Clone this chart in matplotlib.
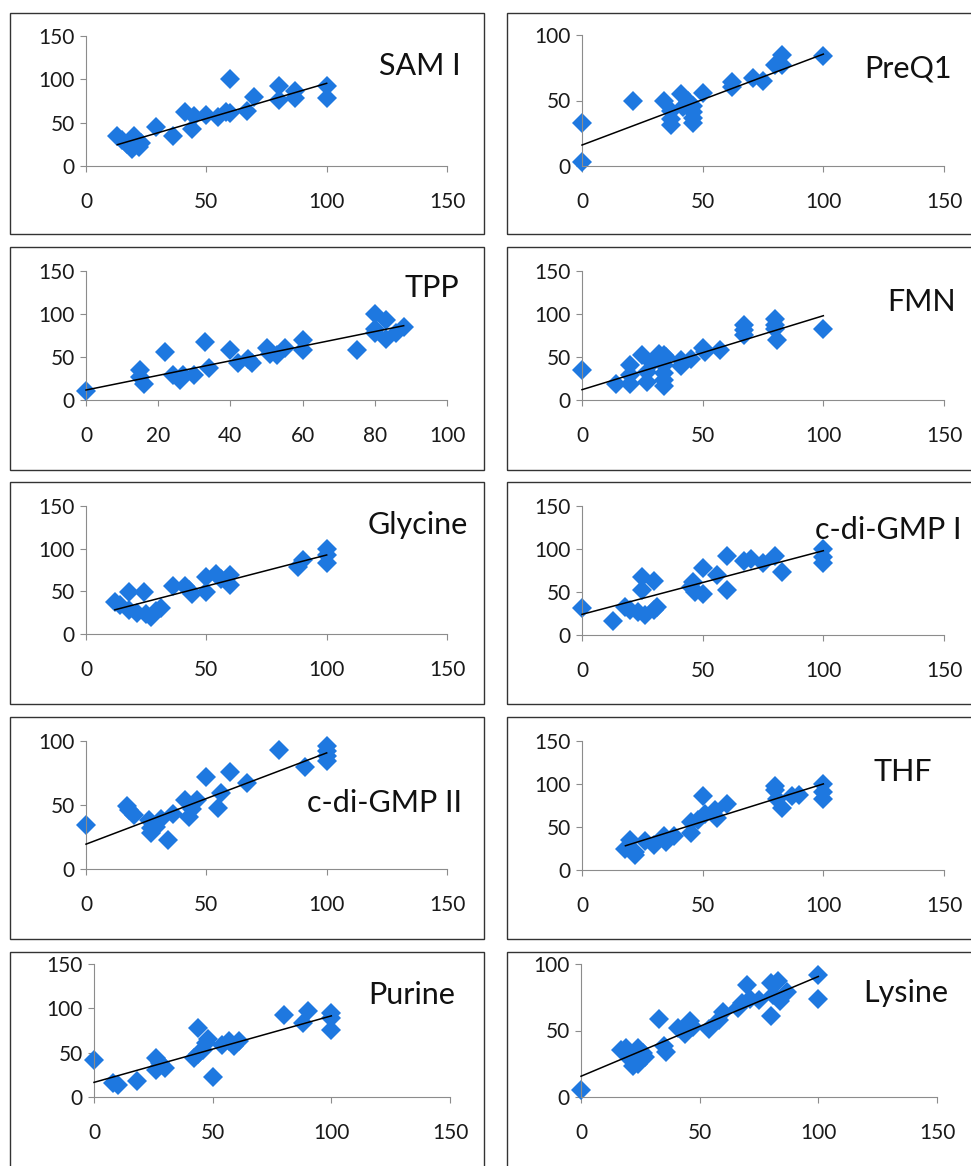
import numpy as np
import matplotlib.pyplot as plt
from matplotlib.patches import Rectangle

plt.rcParams['font.family'] = ['Lato', 'DejaVu Sans']

# values
sam_x = [13, 15, 17, 19, 20, 21, 22, 23, 29, 36, 41, 44, 45, 50, 55, 58, 60, 60, 67, 70, 80, 80, 87, 87, 100, 100]
sam_y = [35, 30, 25, 20, 35, 28, 22, 27, 45, 35, 62, 43, 58, 59, 57, 62, 100, 61, 64, 80, 92, 76, 86, 78, 92, 78]

preq_x = [0, 0, 21, 34, 37, 37, 37, 41, 42, 44, 46, 46, 46, 46, 50, 62, 62, 71, 75, 80, 83, 83, 100]
preq_y = [33, 3, 50, 50, 42, 36, 31, 55, 45, 50, 46, 41, 37, 33, 56, 64, 60, 67, 65, 77, 85, 77, 84]

tpp_x = [0, 15, 15, 16, 22, 24, 26, 27, 30, 33, 34, 40, 42, 45, 46, 50, 51, 53, 55, 60, 60, 75, 80, 80, 80, 83, 83, 86, 88]
tpp_y = [10, 35, 27, 19, 56, 29, 23, 29, 29, 68, 37, 58, 43, 48, 43, 60, 54, 52, 60, 70, 58, 58, 100, 83, 78, 93, 71, 78, 85]

fmn_x = [0, 14, 20, 20, 20, 25, 27, 27, 29, 30, 32, 34, 34, 34, 34, 34, 35, 41, 41, 45, 50, 51, 57, 67, 67, 67, 80, 80, 80, 81, 100]
fmn_y = [35, 19, 41, 29, 19, 52, 33, 21, 43, 47, 54, 52, 41, 31, 23, 16, 50, 40, 47, 48, 60, 56, 58, 87, 81, 76, 94, 87, 82, 70, 82]

gly_x = [12, 14, 18, 18, 21, 24, 25, 27, 29, 31, 36, 41, 43, 44, 50, 50, 54, 56, 60, 60, 88, 90, 100, 100, 100]
gly_y = [37, 34, 49, 28, 25, 49, 23, 20, 27, 30, 56, 56, 52, 47, 49, 67, 70, 64, 69, 58, 79, 87, 100, 93, 83]

gmp1_x = [0, 13, 18, 20, 23, 25, 25, 26, 30, 30, 31, 45, 46, 47, 50, 50, 56, 60, 60, 67, 70, 75, 80, 83, 100, 100, 100]
gmp1_y = [31, 16, 33, 29, 27, 68, 52, 23, 63, 29, 32, 56, 62, 50, 78, 48, 70, 92, 52, 86, 88, 84, 92, 73, 100, 91, 84]

gmp2_x = [0, 17, 18, 20, 26, 27, 27, 29, 31, 34, 36, 41, 43, 44, 46, 50, 55, 56, 60, 67, 80, 91, 100, 100, 100, 100]
gmp2_y = [34, 49, 46, 42, 38, 32, 28, 33, 39, 23, 43, 54, 41, 47, 54, 72, 48, 59, 76, 67, 93, 80, 96, 92, 88, 84]

thf_x = [18, 20, 22, 22, 26, 30, 34, 35, 38, 45, 45, 48, 50, 51, 55, 56, 60, 80, 80, 81, 83, 87, 90, 100, 100, 100]
thf_y = [25, 35, 21, 17, 34, 29, 39, 33, 39, 43, 56, 58, 86, 65, 70, 60, 77, 98, 93, 83, 72, 86, 87, 100, 91, 82]

pur_x = [0, 8, 10, 18, 26, 26, 28, 30, 42, 44, 44, 46, 47, 48, 50, 54, 57, 59, 61, 80, 88, 90, 100, 100, 100]
pur_y = [42, 16, 14, 18, 44, 31, 38, 33, 44, 78, 48, 53, 61, 65, 23, 59, 63, 57, 63, 92, 84, 97, 95, 89, 76]

lys_x = [0, 17, 19, 20, 21, 22, 24, 24, 26, 27, 33, 35, 36, 41, 44, 46, 47, 54, 58, 60, 66, 68, 70, 71, 75, 80, 80, 81, 83, 84, 87, 100, 100]
lys_y = [5, 35, 37, 32, 28, 23, 37, 25, 33, 30, 59, 38, 34, 52, 47, 57, 53, 51, 58, 64, 67, 71, 84, 74, 73, 86, 61, 77, 87, 72, 79, 92, 74]

names = ["SAM I", "PreQ1", "TPP", "FMN", "Glycine", "c-di-GMP I",
         "c-di-GMP II", "THF", "Purine", "Lysine"]
xs = [sam_x, preq_x, tpp_x, fmn_x, gly_x, gmp1_x, gmp2_x, thf_x, pur_x, lys_x]
ys = [sam_y, preq_y, tpp_y, fmn_y, gly_y, gmp1_y, gmp2_y, thf_y, pur_y, lys_y]

# linear trend lines (intercept, slope) as drawn in the original
trend_b = [14, 16, 11.6, 12, 19.6, 24, 19.4, 12.4, 16.5, 15.6]
trend_m = [0.814, 0.694, 0.85, 0.86, 0.73, 0.74, 0.713, 0.877, 0.75, 0.75]

x_max = [150, 150, 100, 150, 150, 150, 150, 150, 150, 150]
x_step = [50, 50, 20, 50, 50, 50, 50, 50, 50, 50]
y_max = [150, 100, 150, 150, 150, 150, 100, 150, 150, 100]

W, H = 971, 1166
fig = plt.figure(figsize=(W / 100, H / 100), dpi=100)

# layout in pixels: axes (left, right, bottom, top), label centre, box
axes_px = [(86, 447, 166, 36), (582, 944, 166, 35),
           (86, 447, 400, 271), (582, 944, 400, 271),
           (86, 447, 634, 506), (582, 944, 635, 506),
           (86, 447, 869, 741), (582, 944, 870, 741),
           (94, 450, 1097, 964), (581, 937, 1097, 964)]
label_px = [(420, 66), (908, 68), (432, 288), (922, 302), (418, 525),
            (888, 530), (384, 803), (903, 772), (412, 995), (906, 993)]
box_rows = [(13, 234), (247, 470), (482, 704), (717, 939), (952, 1175)]
box_cols = [(10, 484), (507, 980)]

for top, bot in box_rows:
    for left, right in box_cols:
        fig.patches.append(Rectangle((left / W, 1 - bot / H), (right - left) / W, (bot - top) / H,
                                     transform=fig.transFigure, fill=False,
                                     edgecolor='#333333', linewidth=1.0))

blue = '#1E78E0'
axis_grey = '#8c8c8c'

for i in range(10):
    x0, x1, yb, yt = axes_px[i]
    ax = fig.add_axes([x0 / W, 1 - yb / H, (x1 - x0) / W, (yb - yt) / H])
    ax.patch.set_alpha(0)
    ax.plot(xs[i], ys[i], linestyle='none', marker='D', ms=10.5, color=blue,
            markeredgewidth=0, clip_on=False, zorder=2)
    tx = np.array([min(xs[i]), max(xs[i])])
    ax.plot(tx, trend_b[i] + trend_m[i] * tx, color='black', lw=1.1, zorder=3, clip_on=False)

    ax.set_xlim(0, x_max[i])
    ax.set_ylim(0, y_max[i])
    ax.set_xticks(np.arange(0, x_max[i] + 1, x_step[i]))
    ax.set_yticks(np.arange(0, y_max[i] + 1, 50))
    for s in ['top', 'right']:
        ax.spines[s].set_visible(False)
    for s in ['left', 'bottom']:
        ax.spines[s].set_color(axis_grey)
        ax.spines[s].set_linewidth(0.8)
    ax.tick_params(direction='out', length=4, width=0.8, color=axis_grey,
                   labelsize=15, labelcolor='#1a1a1a')
    ax.tick_params(axis='x', pad=15)
    ax.tick_params(axis='y', pad=4)

    lx, ly = label_px[i]
    fig.text(lx / W, 1 - ly / H, names[i], fontsize=22, ha='center', va='center', color='#111111')

fig.savefig('out.png', dpi=100)
